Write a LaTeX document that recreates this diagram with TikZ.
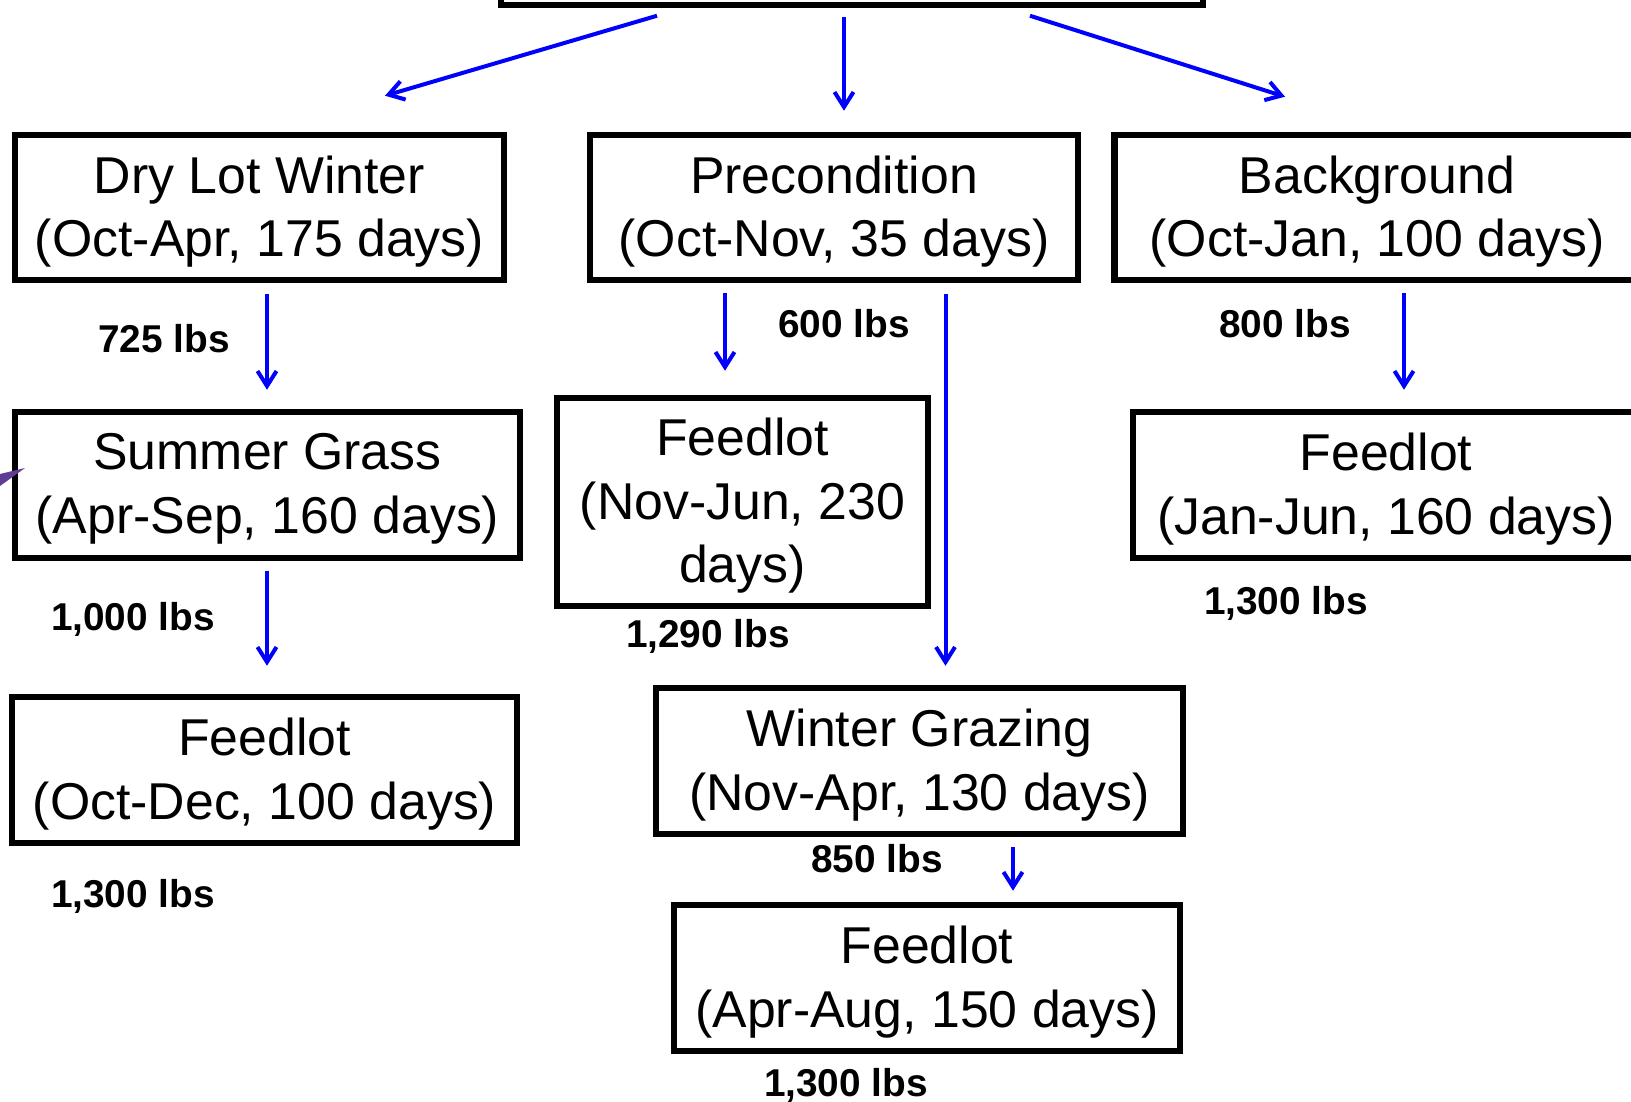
\documentclass[tikz,border=0pt]{standalone}
\usepackage{fontspec}
\setmainfont{Liberation Sans}
\usetikzlibrary{arrows.meta}
\definecolor{arrblue}{RGB}{0,0,255}
\definecolor{tippurple}{RGB}{96,60,150}
\tikzset{
  box/.style={draw=black, line width=6.5pt, inner sep=0pt},
  btxt/.style={align=center, inner sep=0pt, yshift=-4pt,
    font=\fontsize{51.8}{63.5}\selectfont},
  wt/.style={font=\fontsize{38.8}{44}\selectfont\bfseries, inner sep=0pt},
  arr/.style={draw=arrblue, line width=4pt, -{Straight Barb[length=15pt,width=19pt]}}
}
\begin{document}
\begin{tikzpicture}[x=1pt,y=-1pt]
\useasboundingbox (0,0) rectangle (1631,1102);
\clip (0,0) rectangle (1631,1102);
\fill[white] (0,0) rectangle (1631,1102);
% boxes
\node[box, minimum width=702pt, minimum height=130pt] (top) at (852,-60) {};
\node[box, minimum width=489pt, minimum height=145pt, label={[btxt]center:Dry Lot Winter\\(Oct-Apr, 175 days)}] (dry) at (259.5,207.5) {};
\node[box, minimum width=488pt, minimum height=145pt, label={[btxt]center:Precondition\\(Oct-Nov, 35 days)}] (pre) at (834,207.5) {};
\node[box, minimum width=525pt, minimum height=145pt, label={[btxt]center:Background\\(Oct-Jan, 100 days)}] (bg) at (1377,207.5) {};
\node[box, minimum width=505pt, minimum height=146pt, label={[btxt]center:Summer Grass\\(Apr-Sep, 160 days)}] (sum) at (267.5,485) {};
\node[box, minimum width=371pt, minimum height=208pt, label={[btxt]center:Feedlot\\(Nov-Jun, 230\\days)}] (fb) at (742.5,502) {};
\node[box, minimum width=506pt, minimum height=146pt, label={[btxt]center:Feedlot\\(Jan-Jun, 160 days)}] (fc) at (1386,485) {};
\node[box, minimum width=505pt, minimum height=146pt, label={[btxt]center:Feedlot\\(Oct-Dec, 100 days)}] (fa) at (264.5,770) {};
\node[box, minimum width=527pt, minimum height=146pt, label={[btxt]center:Winter Grazing\\(Nov-Apr, 130 days)}] (wg) at (919.5,761) {};
\node[box, minimum width=506pt, minimum height=146pt, label={[btxt]center:Feedlot\\(Apr-Aug, 150 days)}] (fd) at (927,978) {};
% weights
\node[wt] (w1) at (164,339) {725 lbs};
\node[wt] (w2) at (133,619) {1,000 lbs};
\node[wt] (w3) at (844,323.5) {600 lbs};
\node[wt] (w4) at (708,636.5) {1,290 lbs};
\node[wt] (w5) at (1285,323.5) {800 lbs};
\node[wt] (w6) at (1286,603) {1,300 lbs};
\node[wt] (w7) at (133,896.5) {1,300 lbs};
\node[wt] (w8) at (877,859) {850 lbs};
\node[wt] (w9) at (846,1085) {1,300 lbs};
% connectors
\draw[arr] ([xshift=-195pt,yshift=-7.5pt]top.south) -- ([xshift=125.5pt,yshift=36pt]dry.north);
\draw[arr] ([xshift=-8pt,yshift=-8.5pt]top.south) -- ([xshift=10pt,yshift=21pt]pre.north);
\draw[arr] ([xshift=178pt,yshift=-7.5pt]top.south) -- ([xshift=-92pt,yshift=35pt]bg.north);
\draw[arr] ([xshift=7.5pt,yshift=-11pt]dry.south) -- ([xshift=-0.5pt,yshift=19pt]sum.north);
\draw[arr] ([xshift=-0.5pt,yshift=-10pt]sum.south) -- ([xshift=2.5pt,yshift=28pt]fa.north);
\draw[arr] ([xshift=-109pt,yshift=-10pt]pre.south) -- ([xshift=-17.5pt,yshift=24pt]fb.north);
\draw[arr] ([xshift=111.5pt,yshift=-11pt]pre.south) -- ([xshift=26pt,yshift=19pt]wg.north);
\draw[arr] ([xshift=27pt,yshift=-10pt]bg.south) -- ([xshift=18pt,yshift=19pt]fc.north);
\draw[arr] ([xshift=93.5pt,yshift=-10pt]wg.south) -- ([xshift=86pt,yshift=11pt]fd.north);
% purple tip at left edge
\fill[tippurple] (25,468) -- (0,474) -- (0,486) -- cycle;
\end{tikzpicture}
\end{document}
